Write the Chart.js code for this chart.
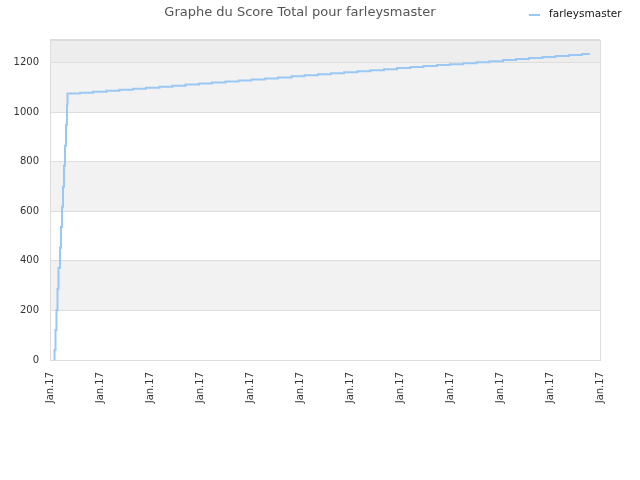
<!DOCTYPE html>
<html>
<head>
<meta charset="utf-8">
<script src="https://cdn.jsdelivr.net/npm/chart.js"></script>
<style>html,body{margin:0;padding:0;background:#fff}</style>
</head>
<body>
<canvas id="myChart" width="640" height="480"></canvas>
<script>
// score history (x = time units, one tick = one "Jan.17" label)
const playerName = 'farleysmaster';
const times = [8, 9, 11, 13, 15, 17, 20, 22, 24, 26, 28, 30, 32, 34, 35,
    60, 86, 113, 139, 166, 192, 219, 245, 271, 298, 324, 351, 377, 403, 430, 456,
    483, 509, 536, 562, 588, 615, 641, 668, 694, 721, 747, 774, 800, 826, 853,
    879, 906, 932, 958, 985, 1011, 1038, 1064, 1080];
const scores = [0, 40, 121, 202, 287, 372, 453, 537, 618, 699, 784, 865, 949, 1030, 1075,
    1079, 1083, 1087, 1091, 1095, 1099, 1103, 1107, 1112, 1116, 1120, 1124, 1128, 1132, 1136,
    1140, 1145, 1149, 1153, 1157, 1161, 1165, 1169, 1173, 1178, 1182, 1186, 1190, 1194, 1198,
    1202, 1206, 1211, 1215, 1219, 1223, 1227, 1231, 1235, 1235];
const xTickLabel = 'Jan.17';
const yTicks = [0, 200, 400, 600, 800, 1000, 1200];

const ctx = document.getElementById('myChart').getContext('2d');
const FONT = "'DejaVu Sans', sans-serif";

const bandsPlugin = {
    id: 'bands',
    beforeDraw: (chart) => {
        const c = chart.ctx;
        const area = chart.chartArea;
        const y = chart.scales.y;
        c.save();
        c.fillStyle = '#ffffff';
        c.fillRect(0, 0, chart.width, chart.height);
        // alternating grey bands
        for (let i = 1; i < yTicks.length; i += 2) {
            const top = y.getPixelForValue(yTicks[i + 1] !== undefined ? yTicks[i + 1] : y.max);
            const bottom = y.getPixelForValue(yTicks[i]);
            c.fillStyle = '#f2f2f2';
            c.fillRect(area.left, top, area.right - area.left, bottom - top);
        }
        const last = yTicks[yTicks.length - 1];
        c.fillStyle = '#ededed';
        c.fillRect(area.left, y.getPixelForValue(y.max), area.right - area.left,
            y.getPixelForValue(last) - y.getPixelForValue(y.max));
        c.strokeStyle = '#dddddd';
        c.lineWidth = 1;
        c.strokeRect(Math.round(area.left) + 0.5, Math.round(area.top) + 0.5,
            Math.round(area.right - area.left), Math.round(area.bottom - area.top));
        c.restore();
    },
    afterDraw: (chart) => {
        // small legend top right
        const c = chart.ctx;
        c.save();
        c.strokeStyle = chart.data.datasets[0].borderColor;
        c.lineWidth = 2;
        c.beginPath();
        c.moveTo(529, 15);
        c.lineTo(540, 15);
        c.stroke();
        c.fillStyle = '#111';
        c.font = '10.5px ' + FONT;
        c.textBaseline = 'middle';
        c.fillText(playerName, 549, 14);
        c.restore();
    }
};

const myChart = new Chart(ctx, {
    type: 'line',
    data: {
        datasets: [{
            label: playerName,
            data: times.map((t, i) => ({ x: t, y: scores[i] })),
            borderColor: '#9ac7f4',
            borderWidth: 2,
            pointRadius: 0,
            stepped: true,
            fill: false
        }]
    },
    options: {
        responsive: false,
        animation: false,
        layout: { padding: { left: 0, right: 40, top: 0, bottom: 0 } },
        plugins: {
            legend: { display: false },
            tooltip: { enabled: false },
            title: {
                display: true,
                text: 'Graphe du Score Total pour ' + playerName,
                color: '#555',
                font: { family: FONT, size: 13, weight: 'normal' },
                padding: { top: 5, bottom: 19 }
            }
        },
        scales: {
            x: {
                type: 'linear',
                min: 0,
                max: 1100,
                grid: { display: false, drawTicks: false },
                border: { display: false },
                ticks: {
                    stepSize: 100,
                    autoSkip: false,
                    minRotation: 90,
                    maxRotation: 90,
                    padding: 12,
                    color: '#333',
                    font: { family: FONT, size: 10 },
                    callback: () => xTickLabel
                },
                afterFit: (scale) => { scale.height = 120; }
            },
            y: {
                min: 0,
                max: 1293,
                grid: { color: '#dddddd', drawTicks: false },
                border: { display: false },
                ticks: {
                    stepSize: 200,
                    padding: 11,
                    color: '#333',
                    font: { family: FONT, size: 10 },
                    callback: (v) => yTicks.includes(v) ? v : ''
                },
                afterFit: (scale) => { scale.width = 50; }
            }
        }
    },
    plugins: [bandsPlugin]
});
</script>
</body>
</html>
